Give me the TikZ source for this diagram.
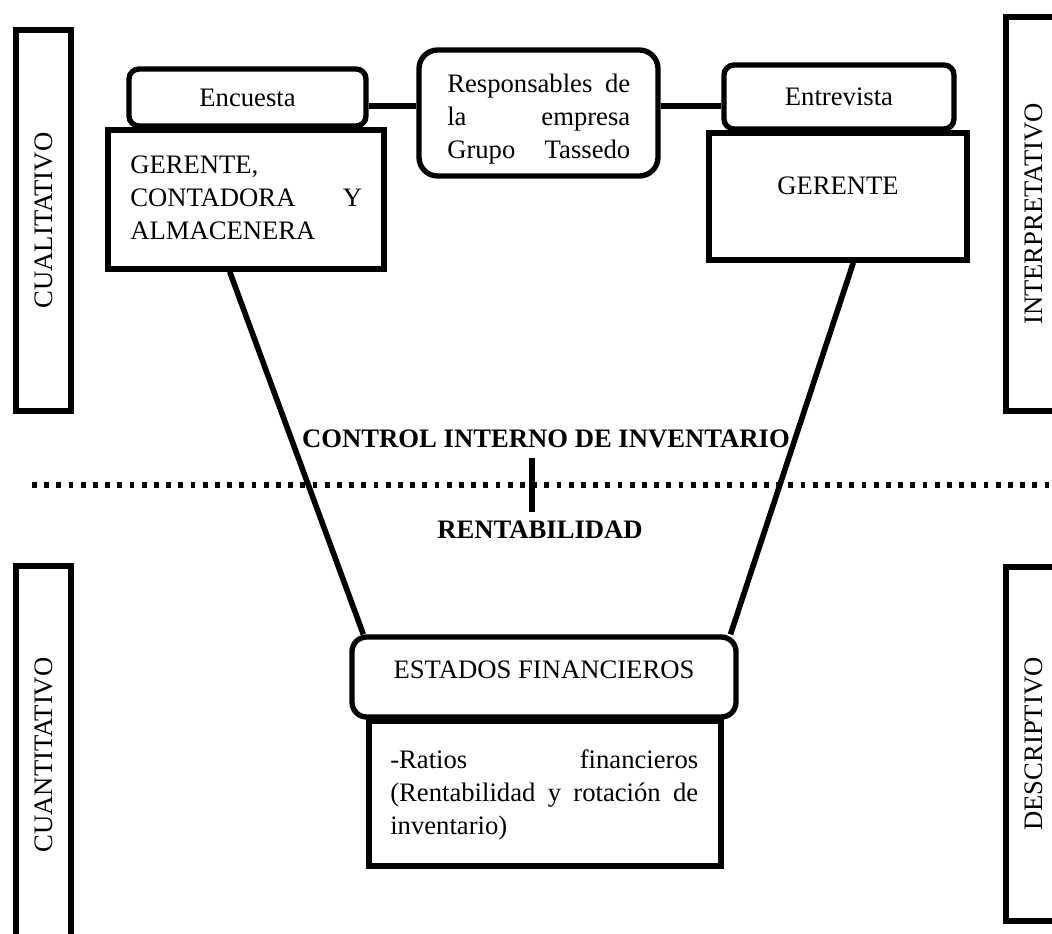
\documentclass[tikz,border=0pt]{standalone}
\usepackage{fontspec}
\setmainfont{Liberation Serif}
\usetikzlibrary{fit,calc}
\begin{document}
\begin{tikzpicture}[x=0.75pt,y=-0.75pt,
  sqbox/.style={draw, line width=4pt, inner sep=0pt, rectangle},
  rbox/.style={draw, line width=4pt, inner sep=0pt, rectangle, rounded corners=#1},
  txt/.style={font=\fontsize{20}{24.75}\selectfont, inner sep=0pt},
  btxt/.style={font=\fontsize{20}{24.75}\selectfont\bfseries, inner sep=0pt},
  conn/.style={line width=4.4pt},
  trap/.style={line width=4.2pt},
  barline/.style={line width=5pt},
  dotline/.style={line width=3.9pt, dash pattern=on 3.6pt off 5.55pt}
]
\useasboundingbox (0,0) rectangle (1052,934);
\clip (0,0) rectangle (1052,934);

% side boxes
\node[sqbox, fit={(16,30) (71,411)}] (cual) {};
\node[sqbox, fit={(1006,17) (1062,411)}] (interp) {};
\node[sqbox, fit={(16,566) (71,944)}] (cuant) {};
\node[sqbox, fit={(1006,567) (1062,921)}] (descr) {};
\node[txt, rotate=90] (cualt) at (cual.center) {CUALITATIVO};
\node[txt, rotate=90] (interpt) at (interp.center) {INTERPRETATIVO};
\node[txt, rotate=90] (cuantt) at (cuant.center) {CUANTITATIVO};
\node[txt, rotate=90] (descrt) at (descr.center) {DESCRIPTIVO};

% top left group
\node[rbox=7.5pt, fit={(129,69) (366,126)}] (enc) {};
\node[txt] (enct) at (enc.center) {Encuesta};
\node[sqbox, fit={(108,130) (384,269)}] (g1) {};
\node[txt, anchor=base west] (g1t) at (130,174)
  {\vtop{\hbox{GERENTE,}\hbox to 174pt{CONTADORA\hfill Y}\hbox{ALMACENERA}}};

% center top
\node[rbox=14pt, fit={(419,50) (658,176)}] (resp) {};
\node[txt, anchor=base west] (respt) at (447,93)
  {\vtop{\hbox to 137.25pt{Responsables\hfill de}\hbox to 137.25pt{la\hfill empresa}\hbox to 137.25pt{Grupo\hfill Tassedo}}};

% top right group
\node[rbox=7.5pt, fit={(724,65) (954,129)}] (ent) {};
\node[txt] (entt) at (ent.center) {Entrevista};
\node[sqbox, fit={(709,133) (967,260)}] (g2) {};
\node[txt, anchor=base] (g2t) at (g2.center |- 0,195) {GERENTE};

% bottom group
\node[rbox=11pt, fit={(352,637) (736,717)}] (est) {};
\node[txt, anchor=base] (estt) at (est.center |- 0,678) {ESTADOS FINANCIEROS};
\node[sqbox, fit={(369,721) (721,866)}] (rat) {};
\node[txt, anchor=base west] (ratt) at (390,768)
  {\vtop{\hbox to 231pt{-Ratios\hfill financieros}\hbox to 231pt{(Rentabilidad\hfill y\hfill rotación\hfill de}\hbox{inventario)}}};

% connectors top
\coordinate (cy) at ($(enc.north east)!0.64!(enc.south east)$);
\draw[conn] (cy) -- (resp.west |- cy);
\draw[conn] (resp.east |- cy) -- (ent.west |- cy);

% trapezoid sides
\coordinate (l1) at ($(g1.south west)!0.442!(g1.south east)$);
\coordinate (l2) at ($(est.north west)!0.036!(est.north east)$);
\coordinate (r1) at ($(g2.south west)!0.558!(g2.south east)$);
\coordinate (r2) at ($(est.north west)!0.979!(est.north east)$);
\draw[trap] (l1) -- (l2);
\draw[trap] (r1) -- (r2);

% center labels
\node[btxt, anchor=base] (ctrl) at (546,447) {CONTROL INTERNO DE INVENTARIO};
\node[btxt, anchor=base] (rent) at (540,538) {RENTABILIDAD};
\coordinate (dl) at (32,485);
\coordinate (dr) at (1056,485);
\draw[dotline] (dl) -- (dr);
\coordinate (bt) at (532,458);
\coordinate (bb) at (532,512);
\draw[barline] (bt) -- (bb);
\end{tikzpicture}
\end{document}
